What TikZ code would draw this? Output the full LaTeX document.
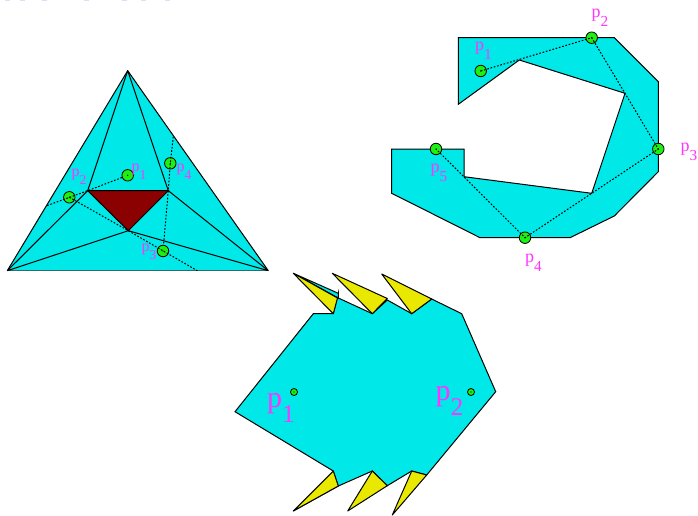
\documentclass[tikz,border=0pt]{standalone}
\usepackage{fontspec}
\setmainfont{Liberation Serif}
\definecolor{polycyan}{RGB}{0,232,232}
\definecolor{coremaroon}{RGB}{139,0,0}
\definecolor{spikeyellow}{RGB}{232,232,0}
\definecolor{ptgreen}{RGB}{30,240,20}
\definecolor{labelmagenta}{RGB}{255,51,255}
\definecolor{baseteal}{RGB}{40,110,110}
\definecolor{speckblue}{RGB}{222,222,250}
\newcommand{\psub}[1]{p\raisebox{-1.1ex}{\scalebox{.85}{#1}}}
\tikzset{
    x=1pt, y=-1pt,
    polyshape/.style={draw=black, fill=polycyan, line width=1pt, line join=miter},
    edgeline/.style={draw=black, line width=1pt},
    walkline/.style={draw=black, line width=1pt, dash pattern=on 1.7pt off 1.7pt},
    greenpt/.style={circle, draw=black, fill=ptgreen, line width=0.8pt, inner sep=0pt, minimum size=#1,
        path picture={\fill[black] (path picture bounding box.center) circle (0.7pt);}},
    greenpt/.default=11.5pt,
    trilabel/.style={text=labelmagenta, inner sep=0pt, font=\fontsize{16}{16}\selectfont},
    ptlabel/.style={text=labelmagenta, inner sep=0pt, font=\fontsize{18}{18}\selectfont},
    biglabel/.style={text=labelmagenta, inner sep=0pt, font=\fontsize{30}{30}\selectfont},
    spike/.style={draw=black, fill=spikeyellow, line width=1pt, line join=round},
}
\begin{document}
\begin{tikzpicture}
\useasboundingbox (0,0) rectangle (698,516);
% specks along the top edge
\foreach \sx in {7,22,44,86,124,143,167} {
    \fill[speckblue] (\sx-2.5,0) rectangle (\sx+2.5,1.2);
}

% triangulated triangle
\coordinate (apex) at (127.7,70.7);
\coordinate (baseL) at (7.3,270.7);
\coordinate (baseR) at (268.3,270.7);
\coordinate (coreA) at (87.7,190.7);
\coordinate (coreB) at (168.3,190.7);
\coordinate (coreC) at (128.3,230.7);
\coordinate (endA) at (46.7,205.7);
\coordinate (endC) at (197.3,270.7);
\coordinate (endB) at (173.3,136.7);
\fill[polycyan] (apex) -- (baseR) -- (baseL) -- cycle;
\draw[edgeline] (baseL) -- (apex) -- (baseR);
\draw[baseteal, line width=1.4pt] (baseL) -- (baseR);
\draw[edgeline, fill=coremaroon] (coreA) -- (coreB) -- (coreC) -- cycle;
\draw[edgeline] (apex) -- (coreA) (apex) -- (coreB);
\draw[edgeline] (baseL) -- (coreA) (baseL) -- (coreC);
\draw[edgeline] (baseR) -- (coreB) (baseR) -- (coreC);
\node[greenpt] (tp1) at (127.7,175.3) {};
\node[greenpt] (tp2) at (69.3,197.3) {};
\node[greenpt] (tp3) at (163,251) {};
\node[greenpt] (tp4) at (170.3,163.3) {};
\draw[walkline] (tp1) -- (coreA) -- (endA);
\draw[walkline] (tp2.center) -- (coreC) -- (endC);
\draw[walkline] (endB) -- (tp4.center) -- (coreB) -- (tp3);
\node[trilabel] (tl1) at (139,172) {\psub{1}};
\node[trilabel] (tl2) at (79,177) {\psub{2}};
\node[trilabel] (tl3) at (149,252) {\psub{3}};
\node[trilabel] (tl4) at (184,172) {\psub{4}};

% polygon with a walk
\coordinate (notchA) at (519.3,60);
\coordinate (notchB) at (625,93.3);
\coordinate (notchC) at (591.7,193.3);
\coordinate (notchD) at (464,176.7);
\draw[polyshape] (458.3,37.7) -- (614.3,37.7) -- (658.3,81.7) -- (658.3,171.7) -- (614.3,216)
    -- (570,237.7) -- (480,237.7) -- (391.7,193.3) -- (391.7,149) -- (464,149) -- (notchD)
    -- (notchC) -- (notchB) -- (notchA) -- (458.3,104.3) -- cycle;
\node[greenpt] (wp1) at (480.7,71) {};
\node[greenpt] (wp2) at (591.7,37.7) {};
\node[greenpt] (wp3) at (658.3,149) {};
\node[greenpt] (wp4) at (525,237.7) {};
\node[greenpt] (wp5) at (436,149) {};
\draw[walkline] (wp1.center) -- (wp2.center) -- (wp3.center) -- (wp4.center) -- (wp5.center);
\node[ptlabel] (wl1) at (483.5,51) {\psub{1}};
\node[ptlabel] (wl2) at (600,18) {\psub{2}};
\node[ptlabel] (wl3) at (689,151.5) {\psub{3}};
\node[ptlabel] (wl4) at (533.5,262.5) {\psub{4}};
\node[ptlabel] (wl5) at (439,173) {\psub{5}};

% polygon with spikes
\draw[polyshape] (235,411.7) -- (313.3,313.7) -- (333.3,313.7) -- (338.3,293.3) -- (338.3,298)
    -- (372.3,313.7) -- (387.3,300) -- (411.7,313.7) -- (431.7,299) -- (461.7,313.7)
    -- (495.7,391.7) -- (426.7,475) -- (411.7,471) -- (387.3,485.7) -- (372.3,471)
    -- (338.3,486) -- (333.3,471) -- cycle;
\draw[polyshape] (293.3,273.3) -- (338.3,293.3) -- (338.3,298) -- cycle;
\draw[spike] (293.3,273.3) -- (337.5,298) -- (333.3,313.7) -- cycle;
\draw[spike] (332.3,273.3) -- (387.3,298.5) -- (372.3,313.7) -- cycle;
\draw[spike] (381.7,274) -- (431.7,299) -- (411.7,313.7) -- cycle;
\draw[polyshape] (293.3,511) -- (338.3,486) -- (333.3,480) -- cycle;
\draw[spike] (293.3,511) -- (333.3,471) -- (338.3,486) -- cycle;
\draw[spike] (347.7,511) -- (372.3,471) -- (387.3,485.7) -- cycle;
\draw[spike] (392.3,515) -- (411.7,471) -- (426.7,475) -- cycle;
\node[greenpt=7pt] (sp1) at (294,392) {};
\node[greenpt=7pt] (sp2) at (471,392) {};
\node[biglabel] (sl1) at (281,408) {\psub{1}};
\node[biglabel] (sl2) at (449.5,401) {\psub{2}};
\end{tikzpicture}
\end{document}
